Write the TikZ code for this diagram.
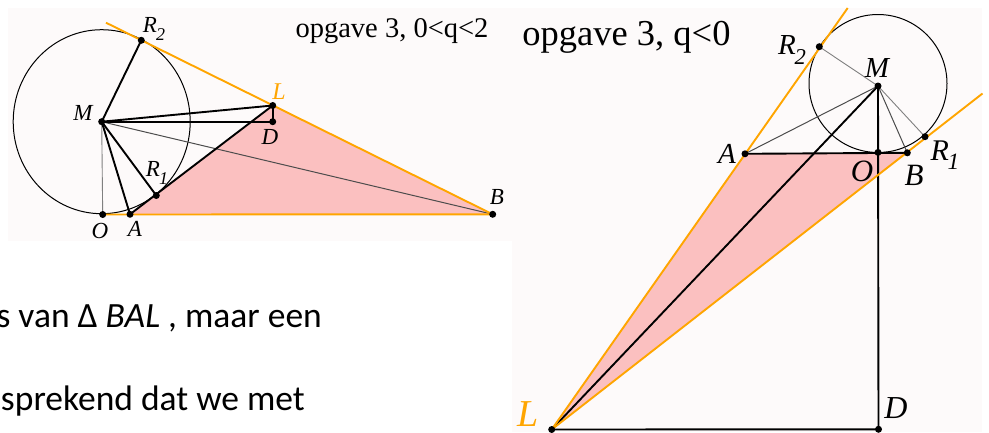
\documentclass[tikz,border=0pt]{standalone}
\usepackage{graphicx}
\usepackage{fontspec}
\setmainfont{Liberation Serif}
\newfontfamily\calibri{Carlito}
\definecolor{panel}{RGB}{253,250,250}
\definecolor{fillpink}{RGB}{251,192,192}
\definecolor{orng}{RGB}{255,165,0}
\tikzset{
  blk/.style={line width=1.9pt, line cap=round, black},
  gry/.style={line width=0.9pt, black!50},
  dgry/.style={line width=1pt, black!70},
  org/.style={line width=1.9pt, orng},
  circ/.style={line width=1pt, black},
  lbl/.style={inner sep=0pt},
}
\newcommand{\fs}[1]{\fontsize{#1}{#1}\selectfont}
\newcommand{\sbx}[1]{\kern-0.04em\raisebox{-0.32em}{\scalebox{0.78}{#1}}}
\begin{document}
\begin{tikzpicture}[x=1pt,y=-1pt]
\useasboundingbox (0,0) rectangle (989,432);
\fill[white] (0,0) rectangle (989,432);
\fill[panel] (8,8) rectangle (512,241);
\fill[panel] (512,8) rectangle (982,432);

% ---------- left figure ----------
\coordinate (lM) at (101.7,121.7);
\coordinate (lO) at (102.7,214.5);
\coordinate (lA) at (130,214.3);
\coordinate (lR1) at (156.3,195.5);
\coordinate (lR2) at (141.3,40.3);
\coordinate (lL) at (272.7,105.5);
\coordinate (lD) at (272.7,121.7);
\coordinate (lB) at (492.7,214.3);
\coordinate (lT) at (106,22.7);

\fill[fillpink] (lA) -- (lB) -- (lL) -- cycle;
\draw[circ] (lM) ellipse [x radius=88.5pt, y radius=92pt];
\draw[gry] (lM) -- (lO);
\draw[dgry] (lM) -- (lB);
\draw[blk] (lM) -- (lR2);
\draw[blk] (lM) -- (lL);
\draw[blk] (lM) -- (lD);
\draw[blk] (lL) -- (lD);
\draw[blk] (lM) -- (lA);
\draw[blk] (lM) -- (lR1);
\draw[org] (lT) -- (lB);
\draw[org] (lO) -- (lB);
\draw[blk] (lA) -- (lL);
\foreach \p in {lM,lO,lA,lR1,lR2,lL,lD,lB} \fill (\p) circle (3.5pt);

\node[lbl,font=\itshape\fs{23}] (tlR2) at (154,29) {R\sbx{2}};
\node[lbl,font=\itshape\fs{23}] (tlM) at (83,113) {M};
\node[lbl,font=\itshape\fs{24},text=orng] (tlL) at (279,92) {L};
\node[lbl,font=\itshape\fs{23}] (tlD) at (270,137) {D};
\node[lbl,font=\itshape\fs{23}] (tlR1) at (157,173) {R\sbx{1}};
\node[lbl,font=\itshape\fs{23}] (tlO) at (100,231) {O};
\node[lbl,font=\itshape\fs{23}] (tlA) at (135,229) {A};
\node[lbl,font=\itshape\fs{23}] (tlB) at (497,197) {B};
\node[inner sep=0pt,anchor=base,font=\fs{28.5}] (t1) at (392,37) {opgave 3, 0<q<2};

% ---------- right figure ----------
\coordinate (rM) at (878,86);
\coordinate (rC) at (878,83.5);
\coordinate (rR2) at (819.3,46.7);
\coordinate (rA) at (745,153.8);
\coordinate (rO) at (878,152.4);
\coordinate (rB) at (907.3,152.8);
\coordinate (rR1) at (925,136.7);
\coordinate (rL) at (551.7,429.5);
\coordinate (rD) at (878.5,429.3);
\coordinate (rTop) at (847.7,8);
\coordinate (rEnd) at (982.5,93.5);

\fill[fillpink] (rL) -- (rA) -- (rB) -- cycle;
\draw[circ] (rC) circle (69pt);
\draw[dgry] (rM) -- (rA);
\draw[gry] (rR2) -- (rM) -- (rR1);
\draw[dgry] (rM) -- (rB);
\draw[blk] (rA) -- (rB);
\draw[blk] (rM) -- (rL);
\draw[blk] (rM) -- (rD);
\draw[blk] (rL) -- (rD);
\draw[org] (rL) -- (rTop);
\draw[org] (rL) -- (rEnd);
\foreach \p in {rM,rR2,rA,rO,rB,rR1,rL,rD} \fill (\p) circle (3.5pt);

\node[lbl,font=\itshape\fs{29}] (trR2) at (792,50) {R\sbx{2}};
\node[lbl,font=\itshape\fs{29}] (trM) at (877,68) {M};
\node[lbl,font=\itshape\fs{29}] (trA) at (727,154) {A};
\node[lbl,font=\itshape\fs{31}] (trO) at (862,171) {O};
\node[lbl,font=\itshape\fs{31}] (trB) at (914,175) {B};
\node[lbl,font=\itshape\fs{30}] (trR1) at (945,155) {R\sbx{1}};
\node[lbl,font=\itshape\fs{38},text=orng] (trL) at (528,414) {L};
\node[lbl,font=\itshape\fs{32}] (trD) at (896,408) {D};
\node[inner sep=0pt,anchor=base,font=\fs{36.5}] (t2) at (626.5,45) {opgave 3, q<0};

% ---------- bottom text ----------
\node[inner sep=0pt,anchor=base east,font=\calibri\fs{35.5}] (x1) at (322,327) {s van Δ \textit{BAL} , maar een};
\node[inner sep=0pt,anchor=base east,font=\calibri\fs{35.5}] (x2) at (305,410) {sprekend dat we met};
\end{tikzpicture}
\end{document}
